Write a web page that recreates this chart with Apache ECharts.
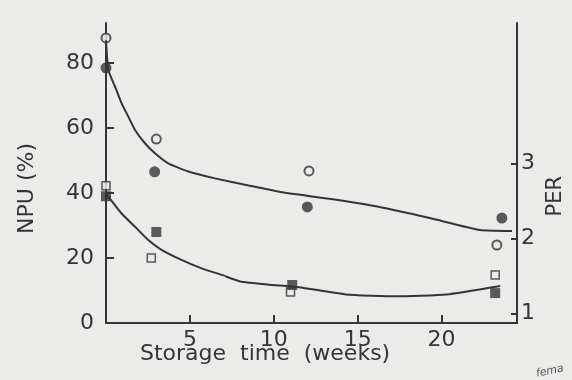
<!DOCTYPE html>
<html>
<head>
<meta charset="utf-8">
<script src="https://cdn.jsdelivr.net/npm/echarts@6/dist/echarts.min.js"></script>
<style>
html,body{margin:0;padding:0;background:#ebebea;}
#c{width:572px;height:380px;}
</style>
</head>
<body>
<div id="c"></div>
<script>
// ---- data (x = storage time in weeks, y = NPU %) ----
const xTicks = [5, 10, 15, 20];
const npuTicks = [0, 20, 40, 60, 80];
const perTicks = [1, 2, 3];

const openCircles   = [[0, 87.7], [3.0, 56.6], [12.1, 46.8], [23.3, 24.0]];
const filledCircles = [[0, 78.5], [2.9, 46.5], [12.0, 35.7], [23.6, 32.3]];
const openSquares   = [[0, 42.2], [2.7, 20.0], [11.0, 9.5], [23.2, 14.8]];
const filledSquares = [[0, 39.0], [3.0, 28.0], [11.1, 11.7], [23.2, 9.2]];

const upperCurve = [[0, 87], [0.14, 77.8], [0.54, 72.7], [0.93, 67.6], [1.33, 63.5], [1.73, 59.4],
  [2.32, 55.3], [2.92, 52.2], [3.71, 49.1], [4.9, 46.6], [6.5, 44.5], [8.5, 42.3], [10.4, 40.3],
  [13.3, 38.2], [16.3, 35.7], [19.3, 32.3], [22.3, 28.6], [24.2, 28.3]];
const lowerCurve = [[0, 40], [0.14, 38.9], [0.93, 33.7], [1.73, 29.6], [2.52, 25.5], [3.31, 22.5],
  [4.5, 19.4], [5.7, 16.8], [6.9, 14.8], [8, 12.8], [9.7, 11.8], [11.5, 11], [14.3, 8.8],
  [17.3, 8.2], [20.3, 8.8], [23.5, 11.4]];

// PER axis aligned with NPU axis: PER = perAt0 + NPU / npuPerUnit
const npuMax = 92.3;
const perAt0 = 0.87;
const npuPerUnit = 23;

const ink = '#353535';
const chart = echarts.init(document.getElementById('c'));
const font = 'DejaVu Sans';

chart.setOption({
  backgroundColor: '#ebebea',
  animation: false,
  grid: {left: 106, right: 55, top: 23, bottom: 57},
  xAxis: {
    type: 'value', min: 0, max: 24.5,
    axisLine: {lineStyle: {color: ink, width: 2}},
    axisTick: {inside: true, length: 8, lineStyle: {color: ink, width: 2}, customValues: xTicks},
    axisLabel: {customValues: xTicks, color: ink, fontFamily: font, fontSize: 22, margin: 6},
    splitLine: {show: false}
  },
  yAxis: [{
    type: 'value', min: 0, max: npuMax,
    axisLine: {show: true, lineStyle: {color: ink, width: 2}},
    axisTick: {show: true, inside: true, length: 8, lineStyle: {color: ink, width: 2}, customValues: [20, 40, 60, 80]},
    axisLabel: {customValues: npuTicks, color: ink, fontFamily: font, fontSize: 22, margin: 12},
    splitLine: {show: false}
  }, {
    type: 'value', position: 'right',
    min: perAt0, max: perAt0 + npuMax / npuPerUnit,
    axisLine: {show: true, lineStyle: {color: ink, width: 2}},
    axisTick: {show: true, inside: true, length: 6, lineStyle: {color: ink, width: 2}, customValues: perTicks},
    axisLabel: {customValues: perTicks, color: ink, fontFamily: font, fontSize: 22, margin: 4},
    splitLine: {show: false}
  }],
  graphic: [
    {type: 'text', left: 16, top: 143, rotation: Math.PI / 2,
     style: {text: 'NPU (%)', font: '22px "DejaVu Sans"', fill: ink}},
    {type: 'text', left: 140, top: 343,
     style: {text: 'Storage  time  (weeks)', font: '22px "DejaVu Sans"', fill: ink}},
    {type: 'text', left: 545, top: 176, rotation: Math.PI / 2,
     style: {text: 'PER', font: '21px "DejaVu Sans"', fill: ink}},
    {type: 'text', left: 535, top: 363, rotation: 0.2,
     style: {text: 'fema', font: 'italic 11px "DejaVu Sans"', fill: '#555'}}
  ],
  series: [
    {type: 'line', data: upperCurve, smooth: 0.15, showSymbol: false, lineStyle: {color: ink, width: 2}},
    {type: 'line', data: lowerCurve, smooth: 0.15, showSymbol: false, lineStyle: {color: ink, width: 2}},
    {type: 'scatter', data: openCircles, symbol: 'circle', symbolSize: 9,
     itemStyle: {color: '#ebebea', borderColor: ink, borderWidth: 2}},
    {type: 'scatter', data: filledCircles, symbol: 'circle', symbolSize: 11, itemStyle: {color: ink}},
    {type: 'scatter', data: openSquares, symbol: 'rect', symbolSize: 8,
     itemStyle: {color: '#ebebea', borderColor: ink, borderWidth: 1.5}},
    {type: 'scatter', data: filledSquares, symbol: 'rect', symbolSize: 10, itemStyle: {color: ink}}
  ]
});
</script>
</body>
</html>
